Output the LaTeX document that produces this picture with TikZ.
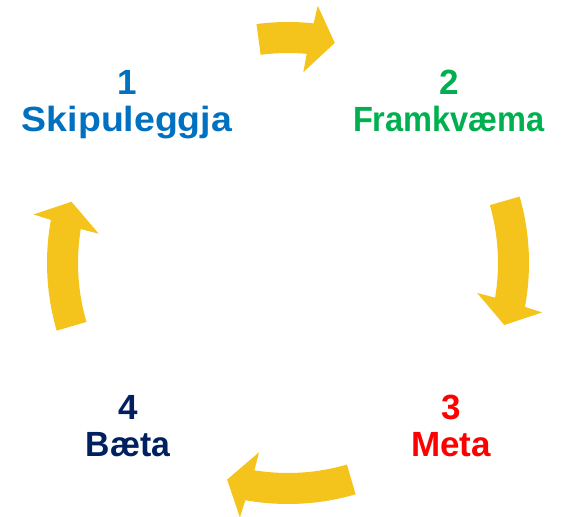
\documentclass[tikz,border=0pt]{standalone}
\usepackage{fontspec}
\setmainfont{Liberation Sans}
\usepackage{graphicx}
\usepackage{tikz}
\definecolor{cycleyellow}{RGB}{245,196,28}
\definecolor{planblue}{RGB}{0,112,192}
\definecolor{dogreen}{RGB}{0,176,80}
\definecolor{checkred}{RGB}{255,0,0}
\definecolor{actnavy}{RGB}{0,32,96}
\tikzstyle{phase} = [font=\fontsize{35}{37}\selectfont\bfseries, align=center, inner sep=0pt, anchor=north]
\tikzstyle{bigarrow} = [fill=cycleyellow, draw=none]
% #1 start angle, #2 head base, #3 tip (clockwise)
\newcommand{\cyclearrow}[3]{%
  \fill[bigarrow] (#1:241) arc[start angle=#1, end angle=#2-0.5, radius=241]
    -- (#2-1:259) -- (#3:225) -- (#2+1:191.5) -- (#2+0.5:210)
    arc[start angle=#2+0.5, end angle=#1, radius=210] -- cycle;}

\begin{document}
\begin{tikzpicture}[x=1pt, y=1pt]
\useasboundingbox (0,0) rectangle (568,517);
\coordinate (hub) at (288,254);

\node (plan)  [phase, text=planblue] at (127,447) {1\\\scalebox{1.07}[1]{Skipuleggja}};
\node (do)    [phase, text=dogreen]  at (449,447) {2\\\scalebox{0.93}[1]{Framkvæma}};
\node (check) [phase, text=checkred] at (451,122) {3\\Meta};
\node (act)   [phase, text=actnavy]  at (128,122) {4\\\scalebox{0.965}[1]{Bæta}};

\begin{scope}[shift={(hub)}]
\cyclearrow{97.5}{84.4}{78}
\cyclearrow{16}{-10}{-16}
\cyclearrow{-73.7}{-99.7}{-105.7}
\cyclearrow{196.3}{170.2}{164.2}
\end{scope}

\end{tikzpicture}
\end{document}
